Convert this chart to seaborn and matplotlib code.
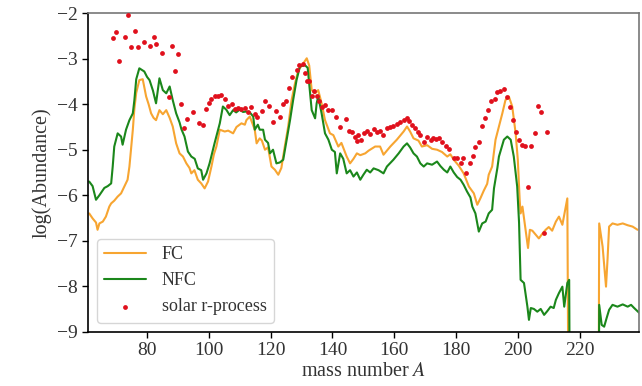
import matplotlib
matplotlib.use("Agg")
import matplotlib.pyplot as plt
import numpy as np
import pandas as pd
import seaborn as sns

# FC model (orange)
fc_A = [61.4, 62.5, 63.6, 64.1, 64.7, 65.8, 66.8, 67.9, 68.5, 69.5, 70.6, 71.7, 72.8, 73.8, 74.4,
        74.9, 75.5, 76.0, 76.6, 77.6, 78.7, 79.8, 80.6, 81.4, 82.2, 83.0, 84.1, 85.2, 86.3, 87.4,
        88.4, 89.5, 90.6, 91.7, 92.8, 93.8, 94.4, 95.4, 96.5, 97.6, 98.7, 99.8, 100.9, 101.7, 102.5,
        103.6, 105.2, 106.3, 107.9, 109.0, 110.6, 111.7, 112.2, 113.3, 114.9, 115.5, 116.5, 117.2,
        118.2, 119.2, 120.3, 121.4, 122.5, 123.5, 124.6, 125.7, 126.8, 127.9, 129.0, 130.6, 131.7,
        132.5, 133.3, 134.4, 135.4, 136.5, 137.6, 139.2, 140.3, 141.9, 142.9, 144.6, 145.7, 146.8,
        147.9, 149.0, 150.6, 151.7, 153.8, 155.4, 156.5, 158.7, 160.8, 163.0, 164.1, 165.1, 166.2,
        167.8, 168.9, 170.6, 172.2, 173.8, 175.4, 177.1, 178.1, 179.2, 180.8, 182.4, 184.1, 185.7,
        186.8, 187.8, 188.9, 190.0, 190.5, 191.6, 192.7, 193.8, 194.9, 195.9, 197.0, 198.1, 199.2,
        199.9, 200.5, 200.8, 201.4, 202.4, 203.2, 203.8, 204.6, 205.7, 206.7, 207.8, 208.9, 209.9,
        211.0, 212.2, 213.2, 214.3, 215.4, 215.9, 216.6, 225.8, 226.2, 227.3, 228.4, 228.9, 229.4,
        230.5, 232.1, 233.8, 235.4, 237.0, 238.6]
fc_logY = [-6.40, -6.51, -6.60, -6.76, -6.62, -6.58, -6.47, -6.25, -6.18, -6.12, -6.03, -5.96, -5.80,
           -5.66, -5.37, -5.00, -4.56, -4.10, -3.75, -3.47, -3.45, -3.83, -4.00, -4.20, -4.30, -4.35,
           -4.13, -4.22, -4.13, -4.30, -4.49, -4.86, -5.08, -5.15, -5.30, -5.40, -5.52, -5.45, -5.66,
           -5.74, -5.85, -5.70, -5.37, -5.10, -4.93, -4.56, -4.60, -4.58, -4.64, -4.50, -4.42, -4.45,
           -4.35, -4.27, -4.56, -4.86, -4.75, -4.80, -5.00, -4.95, -5.37, -5.44, -5.55, -5.40, -4.93,
           -4.49, -3.91, -3.54, -3.25, -3.10, -2.99, -3.15, -3.69, -3.76, -3.69, -3.98, -4.35, -4.64,
           -4.68, -4.93, -4.85, -5.15, -5.30, -5.20, -5.08, -5.12, -5.08, -5.02, -4.93, -4.93, -5.11,
           -4.93, -4.78, -4.60, -4.49, -4.60, -4.75, -4.80, -4.93, -4.90, -4.98, -5.00, -5.05, -5.15,
           -5.10, -5.22, -5.35, -5.52, -5.81, -5.96, -6.21, -6.07, -5.90, -5.75, -5.55, -5.37, -4.78,
           -4.49, -4.20, -3.91, -3.83, -4.05, -4.64, -5.22, -6.10, -6.40, -6.25, -6.76, -7.16, -6.76,
           -6.78, -6.87, -6.95, -6.85, -6.76, -6.70, -6.78, -6.58, -6.47, -6.65, -6.25, -6.07, -15.0,
           -15.0, -6.62, -7.13, -8.01, -7.40, -6.69, -6.62, -6.65, -6.62, -6.66, -6.69, -6.76]

# NFC model (green)
nfc_A = [61.4, 62.5, 63.6, 64.7, 66.3, 67.4, 68.5, 69.0, 69.5, 70.6, 71.7, 72.2, 73.3, 74.4, 75.5,
         76.0, 76.6, 77.6, 78.5, 79.2, 80.1, 80.9, 82.0, 83.0, 84.1, 85.2, 86.3, 87.4, 88.4, 89.5,
         90.6, 91.2, 92.2, 93.3, 94.4, 95.5, 96.5, 97.6, 98.2, 99.3, 100.3, 101.9, 103.6, 104.6,
         105.7, 106.8, 107.9, 108.9, 110.0, 111.1, 112.2, 113.3, 114.4, 114.9, 115.9, 116.5, 117.6,
         118.2, 119.2, 119.8, 120.8, 121.9, 123.0, 124.1, 125.2, 126.3, 127.3, 128.4, 129.5, 131.1,
         132.0, 132.7, 133.3, 134.4, 134.9, 135.4, 136.5, 137.6, 138.7, 139.8, 140.8, 141.4, 142.5,
         143.5, 144.6, 145.7, 146.8, 147.9, 149.0, 150.0, 151.1, 152.2, 153.3, 154.9, 156.5, 157.6,
         158.6, 159.7, 161.4, 163.0, 164.1, 165.1, 166.2, 167.3, 168.4, 169.5, 170.6, 172.2, 173.8,
         174.9, 176.0, 177.1, 178.1, 179.2, 180.3, 181.4, 182.4, 183.5, 184.6, 185.2, 186.2, 187.3,
         188.4, 189.5, 190.5, 191.6, 192.2, 193.3, 193.8, 195.4, 196.5, 197.6, 198.6, 199.7, 200.3,
         200.8, 201.9, 203.0, 203.5, 204.1, 205.1, 206.2, 207.3, 208.4, 209.4, 210.5, 211.5, 212.2,
         213.2, 214.3, 214.9, 215.9, 216.5, 217.0, 225.8, 226.2, 227.0, 227.8, 228.6, 229.4, 230.5,
         232.1, 233.8, 235.4, 236.5, 237.5, 239.2]
nfc_logY = [-5.70, -5.80, -6.10, -6.00, -5.84, -5.80, -5.74, -5.37, -4.93, -4.64, -4.71, -4.89, -4.56,
            -4.35, -4.20, -3.91, -3.45, -3.21, -3.25, -3.28, -3.40, -3.47, -3.70, -3.98, -3.43, -3.69,
            -3.76, -3.61, -3.91, -4.20, -4.40, -4.55, -4.71, -5.04, -5.15, -5.20, -5.41, -5.45, -5.66,
            -5.52, -5.30, -4.86, -4.42, -4.05, -4.12, -4.24, -4.13, -4.18, -4.12, -4.17, -4.16, -4.18,
            -4.27, -4.56, -4.45, -4.56, -4.56, -4.78, -4.85, -5.08, -5.00, -5.30, -5.28, -5.22, -4.78,
            -4.35, -3.91, -3.47, -3.17, -3.14, -3.20, -3.69, -4.13, -4.31, -3.98, -3.83, -4.20, -4.64,
            -4.78, -5.00, -5.05, -5.52, -5.08, -5.20, -5.52, -5.45, -5.59, -5.50, -5.66, -5.55, -5.44,
            -5.50, -5.41, -5.45, -5.52, -5.37, -5.30, -5.22, -5.08, -4.93, -4.86, -4.95, -5.08, -5.15,
            -5.30, -5.37, -5.30, -5.33, -5.26, -5.36, -5.44, -5.50, -5.37, -5.50, -5.60, -5.66, -5.77,
            -5.92, -6.05, -6.25, -6.40, -6.80, -6.62, -6.58, -6.40, -6.32, -5.85, -5.40, -5.15, -4.78,
            -4.71, -4.78, -5.15, -5.81, -6.60, -7.86, -7.93, -8.45, -8.74, -8.48, -8.50, -8.56, -8.50,
            -8.63, -8.55, -8.45, -8.48, -8.30, -8.15, -8.01, -8.45, -7.93, -7.86, -15.0, -15.0, -8.41,
            -8.85, -8.89, -8.70, -8.52, -8.41, -8.45, -8.40, -8.45, -8.41, -8.48, -8.59]

# solar r-process abundances (red dots)
solar_A = [69.0, 70.1, 70.9, 73.0, 74.1, 74.9, 76.2, 77.1, 79.0, 80.9, 82.2, 83.0, 84.9, 87.1, 88.1,
           89.0, 90.0, 91.2, 92.0, 93.0, 94.9, 96.9, 98.2, 99.0, 100.1, 100.9, 101.9, 103.0, 104.1,
           105.2, 106.3, 107.4, 108.4, 109.5, 110.6, 111.9, 112.7, 113.8, 114.9, 115.7, 117.2, 118.2,
           119.6, 120.9, 121.9, 123.0, 123.9, 125.0, 126.0, 127.0, 128.4, 129.3, 130.4, 131.1, 131.9,
           132.5, 133.3, 134.0, 134.9, 135.8, 136.5, 137.6, 138.7, 139.8, 141.2, 142.3, 144.4, 145.2,
           146.3, 147.3, 147.8, 148.4, 149.2, 150.2, 151.1, 152.2, 153.3, 154.4, 155.4, 156.5, 157.6,
           158.7, 159.7, 160.8, 161.9, 163.0, 164.1, 164.9, 165.7, 166.8, 167.6, 168.4, 169.5, 170.6,
           171.7, 172.5, 173.6, 174.5, 175.5, 176.6, 177.7, 179.2, 180.3, 181.4, 182.2, 183.3, 184.4,
           185.3, 186.2, 187.3, 188.4, 189.2, 190.3, 191.3, 192.4, 193.3, 194.3, 195.4, 196.5, 197.3,
           198.3, 199.4, 200.3, 201.1, 202.1, 203.3, 204.3, 205.4, 206.4, 207.3, 208.4, 209.2]
solar_logY = [-2.55, -2.42, -3.04, -2.53, -2.04, -2.75, -2.38, -2.75, -2.64, -2.72, -2.53, -2.68, -2.87,
              -3.85, -2.71, -3.28, -2.90, -4.00, -4.53, -4.33, -4.18, -4.42, -4.45, -4.10, -3.98, -3.88,
              -3.83, -3.82, -3.79, -3.88, -4.04, -3.99, -4.11, -4.09, -4.10, -4.08, -4.16, -4.07, -4.22,
              -4.29, -4.15, -3.92, -4.04, -4.40, -4.15, -4.27, -4.00, -3.92, -3.65, -3.41, -3.25, -3.14,
              -3.11, -3.32, -3.50, -3.48, -3.83, -3.72, -3.83, -3.93, -4.05, -4.02, -4.13, -4.12, -4.29,
              -4.49, -4.32, -4.59, -4.60, -4.71, -4.80, -4.67, -4.78, -4.64, -4.59, -4.66, -4.55, -4.60,
              -4.58, -4.67, -4.53, -4.49, -4.48, -4.44, -4.38, -4.35, -4.31, -4.36, -4.46, -4.53, -4.60,
              -4.67, -4.82, -4.71, -4.78, -4.75, -4.77, -4.74, -4.82, -4.92, -4.98, -5.19, -5.19, -5.30,
              -5.19, -5.52, -5.30, -5.14, -4.93, -4.82, -4.48, -4.31, -4.13, -3.93, -3.89, -3.74, -3.70,
              -3.67, -3.85, -4.05, -4.35, -4.62, -4.78, -4.89, -4.91, -5.81, -4.91, -4.64, -4.04, -4.18,
              -6.84, -4.62]

models = pd.concat([
    pd.DataFrame({"A": fc_A, "logY": fc_logY, "model": "FC"}),
    pd.DataFrame({"A": nfc_A, "logY": nfc_logY, "model": "NFC"}),
])
solar = pd.DataFrame({"A": solar_A, "logY": solar_logY})

sns.set_theme(style="ticks")
plt.rcParams["font.family"] = ["Liberation Serif", "DejaVu Serif"]
plt.rcParams["mathtext.fontset"] = "stix"

fig = plt.figure(figsize=(6.42, 3.86), dpi=100)
ax = fig.add_axes([0.137, 0.1407, 0.859, 0.825])

sns.lineplot(data=models, x="A", y="logY", hue="model", sort=False, estimator=None,
             palette={"FC": "#f7a531", "NFC": "#1b871b"}, linewidth=1.5, ax=ax)
sns.scatterplot(data=solar, x="A", y="logY", color="#e0101c", s=12, linewidth=0,
                label="solar r-process", ax=ax, zorder=3)

ax.set_xlim(61, 239.2)
ax.set_ylim(-9, -2)
ax.set_xticks(range(80, 221, 20))
ax.set_yticks(range(-9, -1))
ax.tick_params(labelsize=14, length=4, width=1, color="black", labelcolor="#333333")
for side in ax.spines.values():
    side.set_color("black")
    side.set_linewidth(1.2)
ax.spines["top"].set_color("#777777")
ax.spines["right"].set_color("#777777")
ax.set_xlabel("mass number $A$", fontsize=14.5, color="#333333", labelpad=2)
ax.set_ylabel("log(Abundance)", fontsize=14.5, color="#333333", labelpad=4)

leg = ax.legend(loc="lower left", fontsize=13, handlelength=2.3, handletextpad=0.9,
                borderaxespad=0.5, frameon=True, markerscale=1.0)
leg.get_frame().set_edgecolor("#cccccc")
for t in leg.get_texts():
    t.set_color("#333333")

fig.savefig("out.png", dpi=100)
